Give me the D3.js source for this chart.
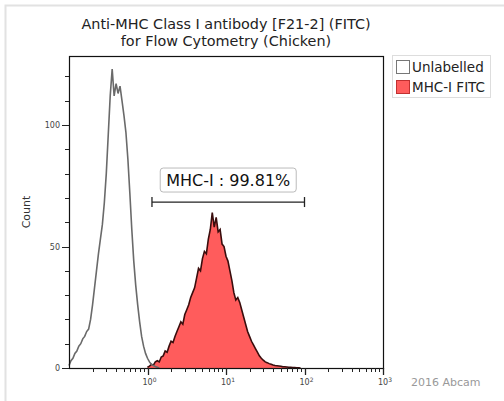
<!DOCTYPE html>
<html lang="en">
<head>
    <meta charset="UTF-8">
    <title>Anti-MHC Class I antibody [F21-2] (FITC)</title>
    <script src="https://d3js.org/d3.v7.min.js"></script>
    <style>
        body {
            margin: 0;
            background: #fff;
            overflow: hidden;
        }
        text {
            font-family: "DejaVu Sans", sans-serif;
        }
        .tick-label {
            font-size: 8px;
            fill: #444;
        }
    </style>
</head>
<body>
    <script>
        // histogram channels: log10(FITC) from binStart, one every binStep
        const binStep = 0.025;
        const unlabelledStart = -1.0;
        const unlabelledCounts = [
            1, 3, 4, 6, 7, 9, 10, 12, 13, 15,
            16, 20, 26, 33, 40, 47, 53, 59, 68, 80,
            96, 112, 123, 112, 117, 113, 116, 110, 104, 97,
            86, 72, 57, 44, 34, 26, 19, 13, 9, 6,
            4, 2.5, 1.5, 1, 0.6, 0.3, 0
        ];
        const mhcStart = 0.0;
        const mhcCounts = [
            0.3, 0.8, 1.5, 1.2, 2.5, 3, 2.5, 4.5, 5, 7,
            6.5, 9, 11, 10.5, 13, 15, 17, 19, 18, 22,
            24, 26, 29, 31, 33, 37, 41, 40, 45, 48,
            47, 53, 57, 64, 58, 62, 56, 57, 51, 50,
            46, 44, 40, 36, 31, 28, 29, 27, 24, 21,
            18, 15, 13, 11, 9.5, 8, 6.5, 5, 4, 3.2,
            2.5, 2.2, 1.8, 1.5, 1.2, 1, 0.9, 0.8, 0.7, 0.5,
            0.5, 0.4, 0.3, 0.3, 0.2, 0.2, 0.1, 0.1, 0
        ];

        const seriesNames = ["Unlabelled", "MHC-I FITC"];
        const xTickValues = [0.1, 1, 10, 100, 1000];
        const xTickExponents = ["", "0", "1", "2", "3"];
        const yTickValues = [0, 50, 100];
        const gateRange = [1.14, 100];
        const gateLabel = "MHC-I : 99.81%";

        const width = 504, height = 401;
        const margin = {top: 56, right: 121, bottom: 33, left: 69};

        const svg = d3.select("body").append("svg")
            .attr("width", width)
            .attr("height", height);

        // light frame around the figure
        svg.append("path")
            .attr("d", "M5.5," + height + "V5.5H" + width)
            .attr("fill", "none")
            .attr("stroke", "#e2e2e2")
            .attr("stroke-width", 2);

        const x = d3.scaleLog()
            .domain([0.1, 1000])
            .range([margin.left, width - margin.right]);
        const y = d3.scaleLinear()
            .domain([0, 128.4])
            .range([height - margin.bottom, margin.top]);

        const toPoints = (start, counts) =>
            counts.map((c, i) => [Math.pow(10, start + i * binStep), c]);

        const unlabelled = toPoints(unlabelledStart, unlabelledCounts);
        const mhc = toPoints(mhcStart, mhcCounts);

        const line = d3.line()
            .x(d => x(d[0]))
            .y(d => y(d[1]));
        const area = d3.area()
            .x(d => x(d[0]))
            .y0(y(0))
            .y1(d => y(d[1]));

        svg.append("path")
            .datum(mhc)
            .attr("d", area)
            .attr("fill", "#ff5c5c");
        svg.append("path")
            .datum(mhc)
            .attr("d", line)
            .attr("fill", "none")
            .attr("stroke", "#3a0d0d")
            .attr("stroke-width", 1.6);

        svg.append("path")
            .datum(unlabelled)
            .attr("d", line)
            .attr("fill", "none")
            .attr("stroke", "#6a6a6a")
            .attr("stroke-width", 1.6);

        // plot box
        svg.append("rect")
            .attr("x", margin.left + 0.5)
            .attr("y", margin.top + 0.5)
            .attr("width", x.range()[1] - x.range()[0])
            .attr("height", y.range()[0] - y.range()[1])
            .attr("fill", "none")
            .attr("stroke", "#111")
            .attr("stroke-width", 1.2);

        // x axis ticks (log, with minor ticks)
        const xMinor = [];
        for (let e = -1; e < 3; e++) {
            for (let m = 2; m <= 9; m++) xMinor.push(m * Math.pow(10, e));
        }
        const xAxisY = y(0);
        svg.append("g").selectAll("line.minor")
            .data(xMinor)
            .enter().append("line")
            .attr("x1", d => Math.round(x(d)) + 0.5)
            .attr("x2", d => Math.round(x(d)) + 0.5)
            .attr("y1", xAxisY)
            .attr("y2", xAxisY + 4)
            .attr("stroke", "#222");
        svg.append("g").selectAll("line.major")
            .data(xTickValues.slice(1))
            .enter().append("line")
            .attr("x1", d => Math.round(x(d)) + 0.5)
            .attr("x2", d => Math.round(x(d)) + 0.5)
            .attr("y1", xAxisY)
            .attr("y2", xAxisY + 7)
            .attr("stroke", "#222")
            .attr("stroke-width", 1.3);

        const xl = svg.append("g").selectAll("text")
            .data(xTickValues.slice(1))
            .enter().append("text")
            .attr("class", "tick-label")
            .attr("x", d => x(d) - 5)
            .attr("y", xAxisY + 17);
        xl.append("tspan").text("10");
        xl.append("tspan")
            .attr("dy", -3)
            .attr("font-size", "6px")
            .text((d, i) => xTickExponents[i + 1]);

        // y axis ticks
        const yAll = d3.range(0, 121, 10);
        svg.append("g").selectAll("line")
            .data(yAll)
            .enter().append("line")
            .attr("x1", margin.left)
            .attr("x2", d => margin.left - (d % 50 === 0 ? 7 : 4))
            .attr("y1", d => Math.round(y(d)) + 0.5)
            .attr("y2", d => Math.round(y(d)) + 0.5)
            .attr("stroke", "#222");
        svg.append("g").selectAll("text")
            .data(yTickValues)
            .enter().append("text")
            .attr("class", "tick-label")
            .attr("x", margin.left - 9)
            .attr("y", d => y(d) + 3)
            .attr("text-anchor", "end")
            .text(d => d);

        svg.append("text")
            .attr("transform", "translate(30," + (y(0) + y(128.4)) / 2 + ") rotate(-90)")
            .attr("text-anchor", "middle")
            .attr("font-size", "11px")
            .attr("fill", "#333")
            .text("Count");

        // title
        const title = svg.append("text")
            .attr("text-anchor", "middle")
            .attr("font-size", "14.4px")
            .attr("fill", "#222");
        title.append("tspan").attr("x", 226).attr("y", 29)
            .text("Anti-MHC Class I antibody [F21-2] (FITC)");
        title.append("tspan").attr("x", 226).attr("y", 46)
            .text("for Flow Cytometry (Chicken)");

        // gate marker
        const gy = y(68.3);
        const gx0 = x(gateRange[0]), gx1 = x(gateRange[1]);
        const gate = svg.append("g").attr("stroke", "#222").attr("stroke-width", 1.3);
        gate.append("line").attr("x1", gx0).attr("x2", gx1).attr("y1", gy).attr("y2", gy);
        gate.append("line").attr("x1", gx0).attr("x2", gx0).attr("y1", gy - 5).attr("y2", gy + 5);
        gate.append("line").attr("x1", gx1).attr("x2", gx1).attr("y1", gy - 5).attr("y2", gy + 5);

        const gmid = (gx0 + gx1) / 2;
        svg.append("rect")
            .attr("x", gmid - 68)
            .attr("y", gy - 34)
            .attr("width", 136)
            .attr("height", 24)
            .attr("rx", 3)
            .attr("fill", "#fff")
            .attr("stroke", "#bbb");
        svg.append("text")
            .attr("x", gmid)
            .attr("y", gy - 16)
            .attr("text-anchor", "middle")
            .attr("font-size", "16px")
            .attr("fill", "#111")
            .text(gateLabel);

        // legend
        const legend = svg.append("g");
        legend.append("rect")
            .attr("x", 392.5).attr("y", 55.5)
            .attr("width", 98).attr("height", 42)
            .attr("fill", "#fff")
            .attr("stroke", "#ddd");
        const items = legend.selectAll("g")
            .data(seriesNames)
            .enter().append("g")
            .attr("transform", (d, i) => "translate(396," + (60 + i * 20) + ")");
        items.append("rect")
            .attr("x", 0.5).attr("y", 0.5)
            .attr("width", 13).attr("height", 13)
            .attr("fill", (d, i) => i === 0 ? "#fff" : "#ff5c5c")
            .attr("stroke", (d, i) => i === 0 ? "#777" : "#c03030");
        items.append("text")
            .attr("x", 16)
            .attr("y", 12)
            .attr("font-size", "13.5px")
            .attr("fill", "#222")
            .text(d => d);

        svg.append("text")
            .attr("x", 411)
            .attr("y", 386)
            .attr("font-family", "Liberation Sans, sans-serif")
            .attr("font-size", "11px")
            .attr("fill", "#999")
            .text("2016 Abcam");
    </script>
</body>
</html>
